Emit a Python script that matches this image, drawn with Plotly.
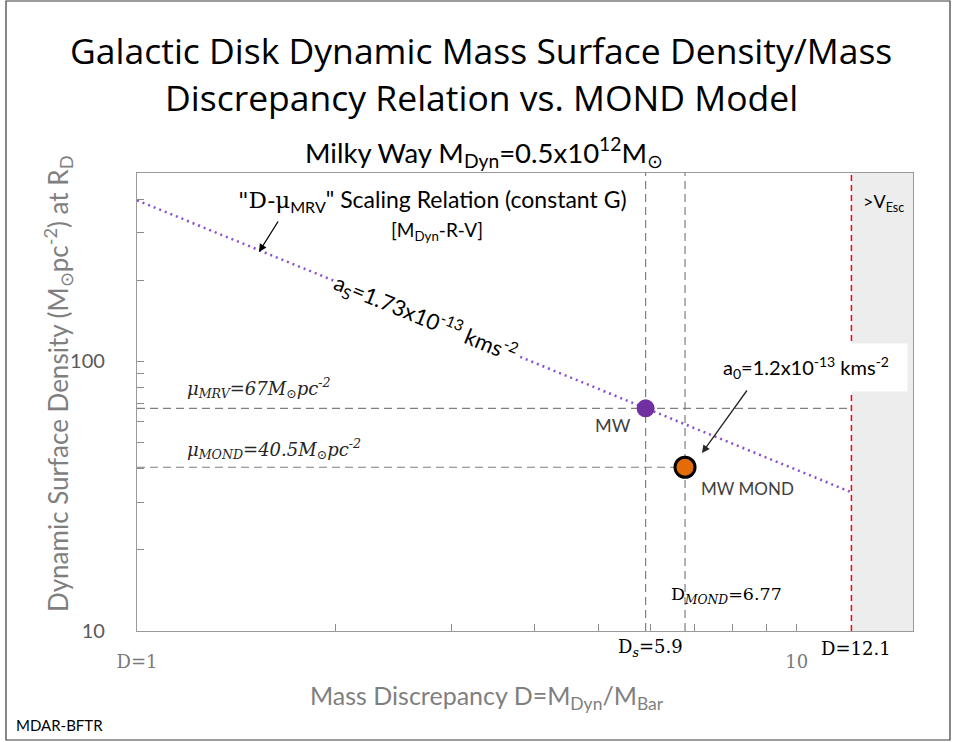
import plotly.graph_objects as go

# ---------------- data ----------------
relation_D = [1.0, 12.1]          # "D-mu_MRV" scaling relation end points
relation_mu = [396.0, 32.7]

mw_D = [5.9]
mw_mu = [67.0]
mond_D = [6.77]
mond_mu = [40.5]

mu_mrv = 67.0
mu_mond = 40.5
D_s = 5.9
D_mond = 6.77
D_esc = 12.1

x_range = [1.0, 15.0]
y_range = [10.0, 500.0]

x_tickvals = [1, 2, 3, 4, 5, 6, 7, 8, 9, 10]
x_ticktext = ["D=1", "", "", "", "", "", "", "", "", "10"]
y_tickvals = [10, 20, 30, 40, 50, 60, 70, 80, 90, 100, 200, 300, 400]
y_ticktext = ["10", "", "", "", "", "", "", "", "", "100", "", "", ""]

# ---------------- helpers (pixel -> paper) ----------------
W, H = 954, 742
L, R, T, B = 137, 913, 173, 631


def px(x):
    return (x - L) / (R - L)


def py(y):
    return (B - y) / (B - T)


SANS = "Lato"
SERIF = "DejaVu Serif"
GRAY_DASH = "#7F7F7F"

fig = go.Figure()

# escape-velocity region
fig.add_shape(type="rect", xref="x", yref="paper", x0=D_esc, x1=x_range[1], y0=0, y1=1,
              fillcolor="#EDEDED", line=dict(width=0), layer="below")

# reference dashed lines
fig.add_trace(go.Scatter(x=[x_range[0], D_esc], y=[mu_mrv, mu_mrv], mode="lines",
                         line=dict(color=GRAY_DASH, width=1.2, dash="8px,5px")))
fig.add_trace(go.Scatter(x=[x_range[0], D_mond], y=[mu_mond, mu_mond], mode="lines",
                         line=dict(color=GRAY_DASH, width=1.2, dash="8px,5px")))
fig.add_trace(go.Scatter(x=[D_s, D_s], y=y_range, mode="lines",
                         line=dict(color=GRAY_DASH, width=1.2, dash="8px,5px")))
fig.add_trace(go.Scatter(x=[D_mond, D_mond], y=y_range, mode="lines",
                         line=dict(color=GRAY_DASH, width=1.2, dash="8px,5px")))
fig.add_trace(go.Scatter(x=[D_esc, D_esc], y=y_range, mode="lines",
                         line=dict(color="#FF0000", width=1.5, dash="6px,4px")))

# scaling relation
fig.add_trace(go.Scatter(x=relation_D, y=relation_mu, mode="lines",
                         line=dict(color="#8A4FCF", width=2.5, dash="2px,4px")))

# points
fig.add_trace(go.Scatter(x=mw_D, y=mw_mu, mode="markers",
                         marker=dict(size=18, color="#7030A0", line=dict(width=0))))
fig.add_trace(go.Scatter(x=mond_D, y=mond_mu, mode="markers",
                         marker=dict(size=20, color="#E36C09", line=dict(width=3, color="#000000"))))

ann = []


def text(x, y, s, size=16, color="#000000", family=SANS, xanchor="center", **kw):
    ann.append(dict(xref="paper", yref="paper", x=px(x), y=py(y), text=s, showarrow=False,
                    xanchor=xanchor, yanchor="middle",
                    font=dict(size=size, color=color, family=family), **kw))


# header
text(481, 50, "Galactic Disk Dynamic Mass Surface Density/Mass", size=35.5, family="Open Sans")
text(481, 97, "Discrepancy Relation vs. MOND Model", size=35.5, family="Open Sans")
text(484, 152, "Milky Way M<sub>Dyn</sub>=0.5x10<sup>12</sup>M<sub>⊙</sub>", size=27.5)

# axis titles
text(58, 384, "Dynamic Surface Density (M<sub>⊙</sub>pc<sup>-2</sup>) at R<sub>D</sub>", size=26,
     color="#7F7F7F", textangle=-90)
text(487, 697, "Mass Discrepancy D=M<sub>Dyn</sub>/M<sub>Bar</sub>", size=25, color="#7F7F7F")

# relation label
text(432, 200, "<span style=\"font-family:'DejaVu Serif'\">\"D-μ</span><sub>MRV</sub>\" Scaling Relation (constant G)", size=23)
text(437, 231, "[M<sub>Dyn</sub>-R-V]", size=19)
text(425, 318, "a<sub>S</sub>=1.73x10<sup>-13</sup> kms<sup>-2</sup>", size=22, textangle=22.3,
     bgcolor="#FFFFFF")

# mu labels
text(185, 388, "<i>μ<sub>MRV</sub>=67M<sub>⊙</sub>pc<sup>-2</sup></i>", size=18, family=SERIF,
     xanchor="left", color="#262626")
text(185, 449, "<i>μ<sub>MOND</sub>=40.5M<sub>⊙</sub>pc<sup>-2</sup></i>", size=18, family=SERIF,
     xanchor="left", color="#262626")

# point labels
text(613, 425, "MW", size=18, color="#404040")
text(747, 488, "MW MOND", size=17, color="#404040")

# a0 label with white box
text(806, 367, "a<sub>0</sub>=1.2x10<sup>-13</sup> kms<sup>-2</sup>", size=20, bgcolor="#FFFFFF",
     width=200, height=45)

# D labels
text(726, 595, "D<sub><i>MOND</i></sub>=6.77", size=17.5, family=SERIF)
text(650, 648, "D<sub><i>s</i></sub>=5.9", size=18, family=SERIF)
text(856, 648, "D=12.1", size=18, family=SERIF)
text(883, 202, "&gt;V<sub>Esc</sub>", size=18)

# footer
text(14, 725, "MDAR-BFTR", size=15, xanchor="left")

# arrows
ann.append(dict(xref="paper", yref="paper", x=px(259), y=py(252), ax=20, ay=-32, text="",
                showarrow=True, arrowhead=2, arrowsize=1.2, arrowwidth=1.3, arrowcolor="#000000"))
ann.append(dict(xref="paper", yref="paper", x=px(702), y=py(453), ax=46, ay=-64, text="",
                showarrow=True, arrowhead=2, arrowsize=1.2, arrowwidth=1.3, arrowcolor="#262626"))

# outer border
fig.add_shape(type="rect", xref="paper", yref="paper",
              x0=px(6), x1=px(950), y0=py(740), y1=py(1),
              line=dict(color="#3A3A3A", width=1.2), fillcolor="rgba(0,0,0,0)")

fig.update_layout(
    width=W, height=H,
    margin=dict(l=L, r=W - R, t=T, b=H - B, autoexpand=False),
    paper_bgcolor="#FFFFFF", plot_bgcolor="#FFFFFF",
    showlegend=False, hovermode=False,
    annotations=ann,
)

fig.update_xaxes(
    type="log", range=[0, 1.1760912591], tickmode="array",
    tickvals=x_tickvals, ticktext=x_ticktext,
    ticks="inside", ticklen=7, tickcolor="#8C8C8C",
    showline=True, linecolor="#9A9A9A", linewidth=1.3, mirror=True,
    showgrid=False, zeroline=False,
    tickfont=dict(family=SERIF, size=18, color="#7A7A7A"),
    ticklabelstandoff=14,
)
fig.update_yaxes(
    type="log", range=[1, 2.6989700043], tickmode="array",
    tickvals=y_tickvals, ticktext=y_ticktext,
    ticks="inside", ticklen=7, tickcolor="#8C8C8C",
    showline=True, linecolor="#9A9A9A", linewidth=1.3, mirror=True,
    showgrid=False, zeroline=False,
    tickfont=dict(family=SANS, size=20, color="#595959"),
    ticklabelstandoff=27,
)

fig.write_html("out.html", config={"displayModeBar": False},
               post_script="document.body.style.margin='0px';")
